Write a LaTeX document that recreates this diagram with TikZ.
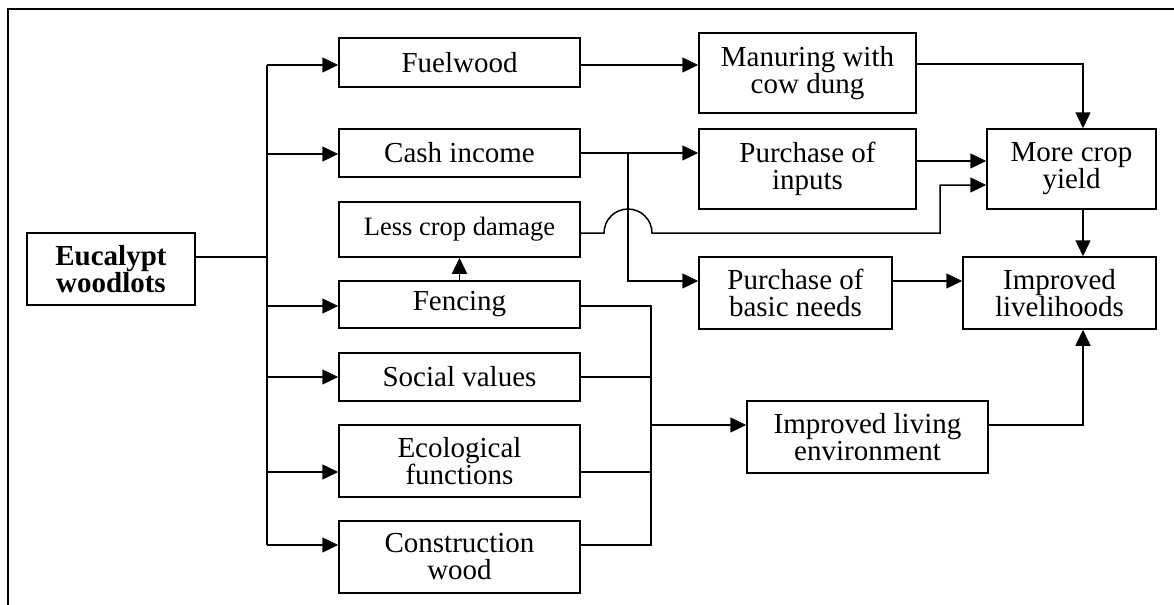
\documentclass[tikz,border=0pt]{standalone}
\usepackage{fontspec}
\setmainfont{Liberation Serif}
\usetikzlibrary{arrows.meta}
\begin{document}
\begin{tikzpicture}[x=0.5pt,y=-0.5pt,
  box/.style={draw, line width=0.75pt, inner sep=0pt, align=center,
    font=\fontsize{14.5pt}{13.5pt}\selectfont},
  conn/.style={line width=0.75pt},
  arr/.style={conn, -{Triangle[length=8pt,width=7.5pt]}}]
\useasboundingbox (0,0) rectangle (1174,605);
\draw[conn] (8,605) -- (8,9) -- (1174,9);
% nodes
\node[box, minimum width=84pt, minimum height=36pt, font=\fontsize{14.5pt}{13.5pt}\selectfont\bfseries] (euc) at (111,269) {Eucalypt\\woodlots};
\node[box, minimum width=120.5pt, minimum height=24.5pt] (fuel) at (459.5,62.5) {Fuelwood};
\node[box, minimum width=120.5pt, minimum height=24pt] (cash) at (459.5,153) {Cash income};
\node[box, minimum width=120.5pt, minimum height=27.5pt, font=\fontsize{13.25pt}{13pt}\selectfont] (lcd) at (459.5,229.5) {Less crop damage};
\node[box, minimum width=120.5pt, minimum height=23.5pt] (fenc) at (459.5,304.5) {Fencing};
\node[box, minimum width=120.5pt, minimum height=24pt] (soc) at (459.5,377) {Social values};
\node[box, minimum width=120.5pt, minimum height=36pt] (eco) at (459.5,461) {Ecological\\functions};
\node[box, minimum width=120.5pt, minimum height=36pt] (con) at (459.5,557) {Construction\\wood};
\node[box, minimum width=108.5pt, minimum height=40pt] (man) at (807.5,73) {Manuring with\\cow dung};
\node[box, minimum width=108.5pt, minimum height=40pt] (inp) at (807.5,169) {Purchase of\\inputs};
\node[box, minimum width=96.5pt, minimum height=36pt] (bas) at (795.5,293) {Purchase of\\basic needs};
\node[box, minimum width=120.5pt, minimum height=36pt] (liv) at (867.5,437) {Improved living\\environment};
\node[box, minimum width=84.5pt, minimum height=40pt] (mcy) at (1071.5,169) {More crop\\yield};
\node[box, minimum width=96.5pt, minimum height=36pt] (ilh) at (1059.5,293) {Improved\\livelihoods};
% trunk
\coordinate (tE) at (267,257);
\coordinate (b1) at (267,65);
\coordinate (b2) at (267,154);
\coordinate (b3) at (267,306);
\coordinate (b4) at (267,377);
\coordinate (b5) at (267,472);
\coordinate (b6) at (267,545);
\draw[conn] (tE -| euc.east) -- (tE);
\draw[conn] (b1) -- (b6);
\draw[arr] (b1) -- (b1 -| fuel.west);
\draw[arr] (b2) -- (b2 -| cash.west);
\draw[arr] (b3) -- (b3 -| fenc.west);
\draw[arr] (b4) -- (b4 -| soc.west);
\draw[arr] (b5) -- (b5 -| eco.west);
\draw[arr] (b6) -- (b6 -| con.west);
% fuelwood -> manuring -> crop yield
\draw[arr] (b1 -| fuel.east) -- (b1 -| man.west);
\coordinate (m1) at (1083,64);
\draw[arr] (m1 -| man.east) -- (m1) -- (m1 |- mcy.north);
% cash income
\coordinate (c1) at (628,153);
\coordinate (c2) at (628,281);
\draw[arr] (c1 -| cash.east) -- (c1 -| inp.west);
\draw[arr] (c1) -- (c2) -- (c2 -| bas.west);
% inputs -> crop yield
\coordinate (i1) at (916,161);
\draw[arr] (i1 -| inp.east) -- (i1 -| mcy.west);
% less crop damage -> crop yield (with jump)
\coordinate (l1) at (604,233);
\coordinate (l2) at (940,233);
\coordinate (l3) at (940,185);
\draw[arr] (l1 -| lcd.east) -- (l1) arc[start angle=180, end angle=360, radius=24] -- (l2) -- (l3) -- (l3 -| mcy.west);
% fencing -> less crop damage
\draw[arr] (fenc.north) -- (lcd.south);
% crop yield -> livelihoods
\coordinate (y1) at (1083,209);
\draw[arr] (y1 |- mcy.south) -- (y1 |- ilh.north);
% basic needs -> livelihoods
\coordinate (n1) at (892,281);
\draw[arr] (n1 -| bas.east) -- (n1 -| ilh.west);
% collector to living environment
\coordinate (k1) at (651,306);
\coordinate (k2) at (651,377);
\coordinate (k3) at (651,472);
\coordinate (k4) at (651,545);
\coordinate (k0) at (651,425);
\draw[conn] (k1 -| fenc.east) -- (k1) -- (k4) -- (k4 -| con.east);
\draw[conn] (k2 -| soc.east) -- (k2);
\draw[conn] (k3 -| eco.east) -- (k3);
\draw[arr] (k0) -- (k0 -| liv.west);
% living environment -> livelihoods
\coordinate (v1) at (1083,425);
\draw[arr] (v1 -| liv.east) -- (v1) -- (v1 |- ilh.south);
\end{tikzpicture}
\end{document}
